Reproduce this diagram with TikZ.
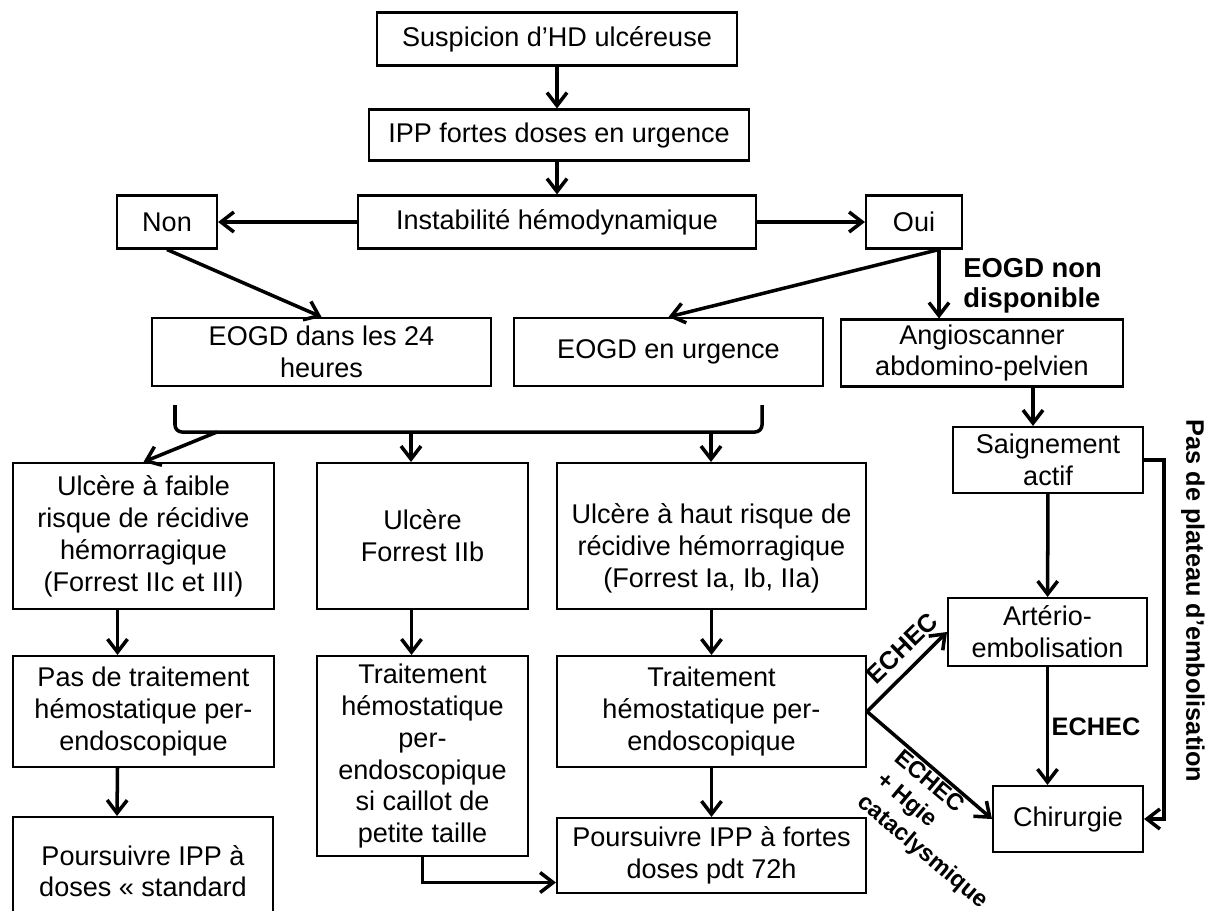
\documentclass[tikz,border=0pt]{standalone}
\usepackage{fontspec}
\setmainfont{Liberation Sans}
\usetikzlibrary{arrows.meta,calc,shadows}

\begin{document}
\begin{tikzpicture}[x=0.02cm,y=-0.02cm,
  boite/.style={draw,fill=white,line width=1.2pt,align=center,inner sep=0pt,
    font=\fontsize{15.4}{18.2}\selectfont,
    drop shadow={shadow xshift=0.8pt,shadow yshift=-0.8pt,opacity=0.3}},
  lien/.style={line width=2pt},
  fleche/.style={lien,-{Straight Barb[length=0.26cm,width=0.4cm]}},
  gras/.style={font=\fontsize{14.4}{17}\selectfont\bfseries,inner sep=0pt,align=left}]

  \useasboundingbox (0,0) rectangle (1212,910);

  % tronc commun
  \node[boite,minimum width=7.2cm,minimum height=1.06cm] (susp) at (557,39) {Suspicion d’HD ulcéreuse};
  \node[boite,minimum width=7.6cm,minimum height=1.02cm] (ipp) at (559,135) {IPP fortes doses en urgence};
  \node[boite,minimum width=7.96cm,minimum height=1.06cm] (inst) at (557,222) {Instabilité hémodynamique};
  \node[boite,minimum width=2cm,minimum height=1.06cm] (non) at (167,222) {Non};
  \node[boite,minimum width=1.92cm,minimum height=1.06cm] (oui) at (914,222) {Oui};

  % endoscopie
  \node[boite,minimum width=6.78cm,minimum height=1.36cm] (eogd24) at (321.5,352) {EOGD dans les 24\\heures};
  \node[boite,minimum width=6.18cm,minimum height=1.36cm] (eogdurg) at (668.5,352) {EOGD en urgence};
  \node[boite,minimum width=5.64cm,minimum height=1.34cm] (angio) at (982,353) {Angioscanner\\abdomino-pelvien};

  % type d'ulcere
  \node[boite,minimum width=5.22cm,minimum height=2.92cm] (ulcfaible) at (143.5,536) {Ulcère à faible\\risque de récidive\\hémorragique\\(Forrest IIc et III)};
  \node[boite,minimum width=4.22cm,minimum height=2.92cm] (ulcIIb) at (422.5,536) {Ulcère\\Forrest IIb};
  \node[boite,minimum width=6.18cm,minimum height=2.92cm] (ulchaut) at (711.5,536) {\rule{0pt}{25pt}Ulcère à haut risque de\\récidive hémorragique\\(Forrest Ia, Ib, IIa)};

  % traitement
  \node[boite,minimum width=5.22cm,minimum height=2.22cm] (pastrait) at (143.5,711.5) {Pas de traitement\\hémostatique per-\\endoscopique};
  \node[boite,minimum width=4.22cm,minimum height=4cm] (traitcaillot) at (422.5,756) {Traitement\\hémostatique\\per-\\endoscopique\\si caillot de\\petite taille};
  \node[boite,minimum width=6.18cm,minimum height=2.22cm] (traithaut) at (711.5,711.5) {Traitement\\hémostatique per-\\endoscopique};
  \node[boite,minimum width=5.2cm,minimum height=2.8cm] (poursstd) at (143,887) {Poursuivre IPP à\\doses «~standard\\\phantom{»}};
  \node[boite,minimum width=6.18cm,minimum height=1.5cm] (poursfort) at (711.5,855.5) {Poursuivre IPP à fortes\\doses pdt 72h};

  % radiologie
  \node[boite,minimum width=3.8cm,minimum height=1.32cm] (saign) at (1048,460) {Saignement\\actif};
  \node[boite,minimum width=3.98cm,minimum height=1.36cm] (arterio) at (1047.5,632) {Artério-\\embolisation};
  \node[boite,minimum width=3cm,minimum height=1.32cm] (chir) at (1068,819) {Chirurgie};

  % etiquettes
  \node[gras,font=\fontsize{15.6}{17}\selectfont\bfseries,anchor=west] (nondispo) at (963,286) {EOGD non\\disponible};
  \node[gras] (echecb) at (1096,727) {ECHEC};
  \node[gras,rotate=44] (echeca) at (902,648) {ECHEC};
  \node[gras,font=\fontsize{13.4}{16.5}\selectfont\bfseries,rotate=-40] (echecc) at (941,830) {ECHEC\\+ Hgie\\cataclysmique};
  \node[gras,rotate=-90] (plateau) at (1193,601) {Pas de plateau d’embolisation};

  % fleches du haut
  \draw[fleche] (susp.south) -- (susp.south |- ipp.north);
  \draw[fleche] (susp.south |- ipp.south) -- (susp.south |- inst.north);
  \draw[fleche] (inst) -- (non);
  \draw[fleche] (inst) -- (oui);
  \draw[fleche] (non.south) -- (eogd24.north);
  \coordinate (ouib) at ($(oui.south)+(25,0)$);
  \draw[fleche] (ouib) -- (eogdurg.north);
  \draw[fleche] (ouib) -- (ouib |- angio.north);

  % accolade sous les EOGD
  \coordinate (accg) at (175,405);
  \coordinate (accd) at (762,405);
  \draw[lien,rounded corners=4pt] (accg) -- (175,432) -- (762,432) -- (accd);
  \coordinate (b1) at (217,432);
  \coordinate (b2) at (411,432);
  \coordinate (b3) at (711,432);
  \draw[fleche] (b1) -- (ulcfaible.north);
  \draw[fleche] (b2) -- (b2 |- ulcIIb.north);
  \draw[fleche] (b3) -- (b3 |- ulchaut.north);

  % colonnes
  \draw[fleche] ($(ulcfaible.south)+(-26,0)$) -- ($(pastrait.north)+(-26,0)$);
  \draw[fleche] ($(pastrait.south)+(-26,0)$) -- ($(poursstd.north)+(-26,0)$);
  \draw[fleche] ($(ulcIIb.south)+(-11,0)$) -- ($(traitcaillot.north)+(-11,0)$);
  \draw[fleche] (ulchaut) -- (traithaut);
  \draw[fleche] (traithaut) -- (poursfort);
  \draw[fleche] (traitcaillot.south) |- ($(poursfort.west)+(0,27)$);

  % echecs
  \draw[fleche] (traithaut.east) -- (arterio.west);
  \draw[fleche] (traithaut.east) -- (chir.west);

  % colonne de droite
  \coordinate (angiob) at ($(angio.south)+(51,0)$);
  \draw[fleche] (angiob) -- (angiob |- saign.north);
  \draw[fleche] (saign) -- (arterio);
  \draw[fleche] (arterio.south) -- (arterio.south |- chir.north);
  \draw[fleche] (saign.east) -- ++(20,0) |- (chir.east);

\end{tikzpicture}
\end{document}
